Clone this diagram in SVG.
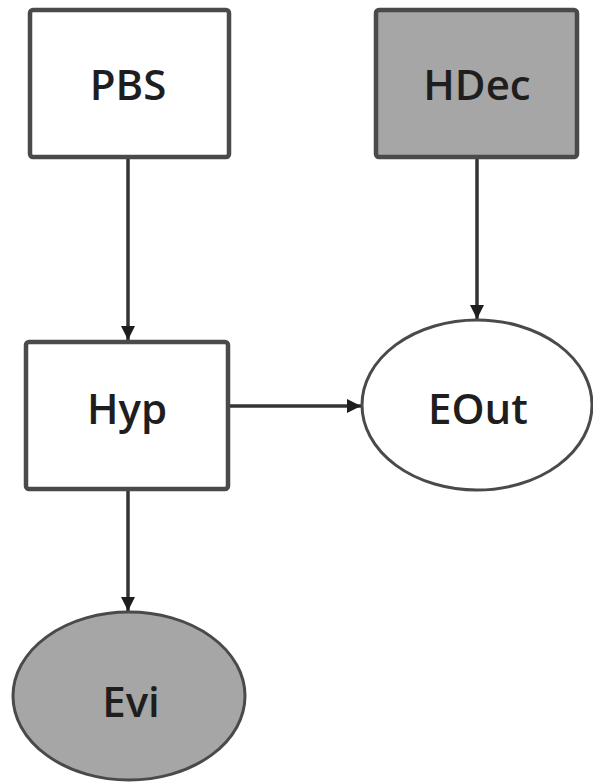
<svg xmlns="http://www.w3.org/2000/svg" width="593" height="784" viewBox="0 0 593 784">
<style>
.box{stroke:#4a4a4a;stroke-width:4.5;}
.ell{stroke:#4a4a4a;stroke-width:3;}
.white{fill:#ffffff;}
.gray{fill:#a6a6a6;}
.lbl{font-family:"Open Sans","Noto Sans",sans-serif;font-size:42px;font-weight:600;fill:#1e1e1e;text-anchor:middle;}
.edge{stroke:#333333;stroke-width:3.5;fill:none;marker-end:url(#ah);}
</style>
<defs>
<marker id="ah" viewBox="0 0 10 10" refX="10" refY="5" markerWidth="4" markerHeight="4" orient="auto" markerUnits="strokeWidth">
<path d="M0,0 L10,5 L0,10 z" fill="#1e1e1e"/>
</marker>
</defs>
<rect width="593" height="784" fill="#ffffff"/>
<g id="connectors">
<line class="edge" x1="128" y1="159" x2="128" y2="340"/>
<line class="edge" x1="477" y1="159" x2="477" y2="319"/>
<line class="edge" x1="230" y1="406" x2="361" y2="406"/>
<line class="edge" x1="128" y1="491" x2="128" y2="611"/>
</g>
<g id="PBS">
<rect class="box white" x="30" y="10" width="199" height="147" rx="3"/>
<text class="lbl" x="128" y="100">PBS</text>
</g>
<g id="HDec">
<rect class="box gray" x="376" y="10" width="201" height="147" rx="3"/>
<text class="lbl" x="477" y="100">HDec</text>
</g>
<g id="Hyp">
<rect class="box white" x="26" y="342" width="202" height="147" rx="3"/>
<text class="lbl" x="127" y="424">Hyp</text>
</g>
<g id="EOut">
<ellipse class="ell white" cx="477" cy="405" rx="115" ry="85"/>
<text class="lbl" x="478" y="424">EOut</text>
</g>
<g id="Evi">
<ellipse class="ell gray" cx="129" cy="696" rx="116" ry="84"/>
<text class="lbl" x="131" y="717">Evi</text>
</g>
</svg>
